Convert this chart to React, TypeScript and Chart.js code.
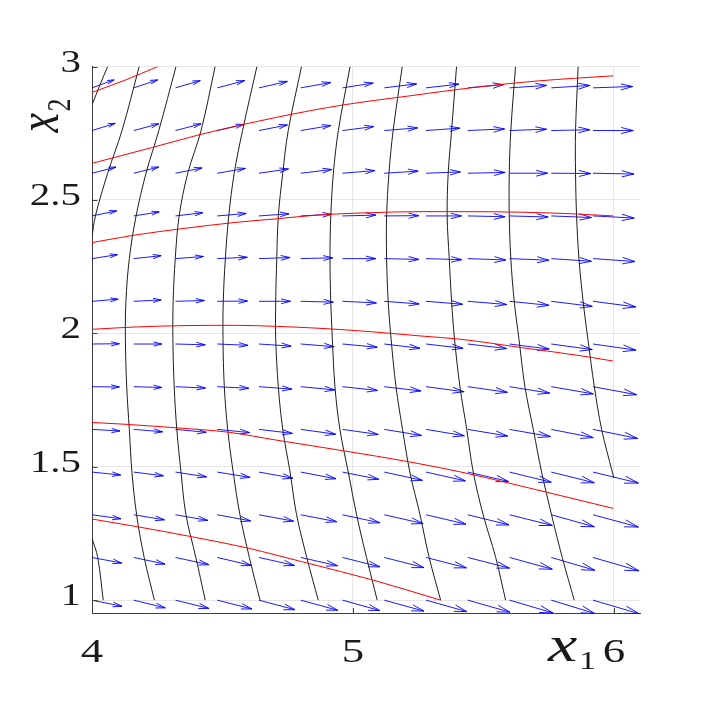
import React, { useEffect, useRef } from "react";
import { Chart, registerables } from "chart.js";

Chart.register(...registerables);

// ---- axes ----
const X_RANGE = [4, 6.1];
const Y_RANGE = [0.95, 3];
const X_TICKS = [4, 5, 6];
const X_TICK_LABELS = ["4", "5", "6"];
const Y_TICKS = [1, 1.5, 2, 2.5, 3];
const Y_TICK_LABELS = ["1", "1.5", "2", "2.5", "3"];
const X_LABEL = ["x", "1"];
const Y_LABEL = ["x", "2"];

// ---- quiver grid (tails) ----
const QUIVER_X = [4.0, 4.16, 4.32, 4.48, 4.64, 4.8, 4.96, 5.12, 5.28, 5.44, 5.6, 5.76, 5.92];
const QUIVER_Y = [2.92, 2.76, 2.6, 2.44, 2.28, 2.12, 1.96, 1.8, 1.64, 1.48, 1.32, 1.16, 1.0];
// displayed arrow components, in hundredths of an axis unit (one row per QUIVER_Y)
const QUIVER_U = [
  [8.5, 9.2, 9.5, 10.5, 10.9, 11.5, 11.8, 12.4, 12.6, 13.7, 14.2, 14.8, 15.2],
  [8.9, 9.6, 9.8, 10.2, 10.9, 11.6, 12.0, 12.8, 13.0, 14.1, 14.2, 14.8, 15.4],
  [9.2, 9.6, 10.2, 10.8, 11.3, 11.9, 12.4, 13.0, 13.2, 14.3, 14.6, 15.2, 15.7],
  [9.5, 9.8, 10.5, 11.1, 11.5, 11.9, 12.8, 13.3, 13.6, 14.3, 14.8, 15.4, 15.8],
  [9.8, 10.5, 10.7, 11.5, 11.9, 12.3, 12.8, 13.3, 13.8, 14.6, 15.1, 15.4, 16.1],
  [10.0, 10.5, 11.1, 11.6, 12.1, 12.5, 13.0, 13.4, 14.0, 14.9, 15.1, 15.7, 16.4],
  [10.5, 10.8, 11.4, 11.8, 12.3, 12.8, 13.3, 13.7, 14.2, 14.9, 15.2, 15.7, 16.5],
  [10.5, 10.8, 11.5, 12.1, 12.6, 13.1, 13.4, 14.1, 14.6, 15.2, 15.4, 16.1, 16.7],
  [10.7, 11.1, 11.8, 12.4, 12.8, 13.4, 13.7, 14.3, 14.7, 15.3, 15.7, 16.1, 17.1],
  [11.0, 11.4, 11.9, 12.6, 13.0, 13.5, 13.9, 14.6, 15.1, 15.6, 16.0, 16.5, 17.4],
  [11.1, 11.8, 12.4, 12.8, 13.3, 13.8, 14.3, 14.9, 15.3, 15.8, 16.4, 16.5, 17.4],
  [11.4, 12.0, 12.8, 13.1, 13.6, 14.1, 14.3, 15.2, 15.5, 16.0, 16.4, 16.7, 17.6],
  [11.5, 12.1, 12.8, 13.3, 13.8, 14.2, 14.3, 15.2, 15.7, 16.2, 16.7, 16.7, 17.7],
];
const QUIVER_V = [
  [3.0, 3.0, 2.7, 2.7, 2.4, 2.0, 1.8, 1.5, 1.4, 1.2, 0.9, 0.9, 0.5],
  [2.7, 2.5, 2.5, 2.3, 2.1, 1.9, 1.5, 1.0, 0.9, 0.6, 0.5, 0.3, 0.0],
  [2.3, 2.3, 2.0, 1.8, 1.6, 1.4, 1.0, 0.8, 0.5, 0.3, 0.0, -0.1, -0.3],
  [1.9, 1.5, 1.2, 0.9, 0.8, 0.6, 0.3, 0.1, 0.0, -0.3, -0.4, -0.6, -0.8],
  [1.5, 1.1, 0.8, 0.5, 0.4, 0.3, 0.0, -0.3, -0.4, -0.5, -0.6, -1.0, -1.1],
  [0.8, 0.5, 0.3, 0.1, 0.0, -0.3, -0.6, -1.0, -1.1, -1.2, -1.5, -1.9, -2.1],
  [0.1, 0.0, -0.3, -0.5, -0.8, -1.0, -1.2, -1.6, -1.6, -1.7, -1.9, -2.1, -2.3],
  [-0.1, -0.3, -0.5, -0.6, -0.9, -1.2, -1.4, -1.6, -1.9, -2.1, -2.4, -2.7, -3.0],
  [-0.6, -0.9, -1.1, -1.2, -1.5, -1.8, -1.9, -2.3, -2.4, -2.5, -2.7, -3.1, -3.4],
  [-1.1, -1.4, -1.8, -2.0, -2.3, -2.5, -2.7, -3.1, -3.3, -3.5, -3.8, -4.0, -4.1],
  [-1.5, -1.9, -2.1, -2.3, -2.4, -2.6, -3.0, -3.3, -3.5, -3.8, -4.0, -4.5, -4.6],
  [-2.1, -2.5, -2.7, -3.0, -3.0, -3.1, -3.5, -3.8, -3.9, -4.0, -4.4, -4.8, -5.0],
  [-2.3, -2.9, -3.1, -3.3, -3.6, -3.8, -3.9, -4.1, -4.3, -4.5, -4.8, -5.0, -5.1],
];

// ---- black curves ----
const BLACK_LEVELS = [3.0, 2.76, 2.6, 2.44, 2.28, 2.12, 1.98, 1.8, 1.64, 1.48, 1.32, 1.16, 1.0];
const BLACK_A_X = [4.06, 4.03, 4.0];
const BLACK_A_Y = [3.0, 2.93, 2.856];
const BLACK_B_X = [4.181, 4.115, 4.06, 4.013, 4.0];
const BLACK_B_Y = [3.0, 2.76, 2.6, 2.44, 2.361];
const BLACK_C_X = [4.322, 4.256, 4.207, 4.169, 4.143, 4.13, 4.128, 4.133, 4.143, 4.153, 4.171, 4.2, 4.239];
const BLACK_D_X = [4.472, 4.418, 4.367, 4.334, 4.319, 4.311, 4.31, 4.315, 4.325, 4.341, 4.36, 4.398, 4.434];
const BLACK_E_X = [4.632, 4.577, 4.545, 4.524, 4.511, 4.503, 4.502, 4.507, 4.52, 4.541, 4.567, 4.603, 4.644];
const BLACK_F_X = [4.803, 4.752, 4.731, 4.714, 4.708, 4.704, 4.704, 4.714, 4.731, 4.759, 4.784, 4.823, 4.867];
const BLACK_G_X = [4.989, 4.944, 4.925, 4.915, 4.912, 4.915, 4.921, 4.931, 4.95, 4.982, 5.014, 5.052, 5.093];
const BLACK_H_X = [5.189, 5.154, 5.138, 5.129, 5.129, 5.135, 5.146, 5.165, 5.19, 5.218, 5.257, 5.292, 5.336];
const BLACK_I_X = [5.397, 5.378, 5.365, 5.361, 5.369, 5.378, 5.389, 5.41, 5.436, 5.461, 5.499, 5.547, 5.585];
const BLACK_J_X = [5.623, 5.605, 5.599, 5.599, 5.605, 5.618, 5.636, 5.659, 5.691, 5.723, 5.761, 5.802, 5.848];
const BLACK_K_X = [5.863, 5.853, 5.853, 5.857, 5.866, 5.882, 5.9, 5.925, 5.953, 5.994, 6.0];
const BLACK_K_Y = [3.0, 2.76, 2.6, 2.44, 2.28, 2.12, 1.98, 1.8, 1.64, 1.48, 1.459];
const BLACK_L_X = [4.0, 4.022, 4.043];
const BLACK_L_Y = [1.2325, 1.16, 1.0];

// ---- red trajectories ----
const RED_1_X = [4.0, 4.13, 4.252];
const RED_1_Y = [2.903, 2.95, 3.0];
const RED_2_X = [4.0, 4.233, 4.411, 4.71, 4.963, 5.21, 5.41, 5.57, 5.71, 5.85, 5.997];
const RED_2_Y = [2.637, 2.697, 2.744, 2.81, 2.856, 2.889, 2.915, 2.933, 2.946, 2.956, 2.965];
const RED_3_X = [4.0, 4.169, 4.36, 4.552, 4.705, 4.874, 5.065, 5.257, 5.41, 5.646, 5.863, 5.997];
const RED_3_Y = [2.34, 2.369, 2.394, 2.416, 2.429, 2.444, 2.452, 2.456, 2.456, 2.454, 2.447, 2.44];
const RED_4_X = [4.0, 4.17, 4.36, 4.55, 4.71, 4.87, 5.07, 5.26, 5.41, 5.65, 5.9, 5.997];
const RED_4_Y = [2.015, 2.024, 2.029, 2.03, 2.026, 2.019, 2.006, 1.99, 1.978, 1.946, 1.912, 1.896];
const RED_5_X = [4.0, 4.13, 4.322, 4.526, 4.705, 4.969, 5.212, 5.41, 5.736, 5.997];
const RED_5_Y = [1.666, 1.659, 1.646, 1.629, 1.6, 1.559, 1.519, 1.481, 1.406, 1.344];
const RED_6_X = [4.0, 4.175, 4.386, 4.603, 4.705, 4.829, 5.078, 5.336];
const RED_6_Y = [1.304, 1.275, 1.237, 1.194, 1.169, 1.138, 1.075, 1.0];

// ---- style ----
const ARROW_UNIT = 0.01;
const HEAD_LEN = 0.3;
const HEAD_WIDTH = 0.25;
const BLUE = "rgb(0,0,255)";
const RED = "rgb(255,0,0)";
const BLACK = "rgb(30,30,30)";
const AXIS_COLOR = "#404040";
const GRID_COLOR = "#e6e6e6";
const TEXT_COLOR = "#1a1a1a";
const SERIF = '"Liberation Serif", "DejaVu Serif", serif';
const TEXT_STRETCH = 1.32;

function zipXY(xs: number[], ys: number[]) {
  return xs.map((x, i) => ({ x, y: ys[i] }));
}

function quiverData() {
  const pts: { x: number; y: number | null }[] = [];
  QUIVER_Y.forEach((y0, r) => {
    QUIVER_X.forEach((x0, c) => {
      const u = QUIVER_U[r][c] * ARROW_UNIT;
      const v = QUIVER_V[r][c] * ARROW_UNIT;
      const tx = x0 + u;
      const ty = y0 + v;
      pts.push({ x: x0, y: y0 }, { x: tx, y: ty }, { x: tx, y: null });
      pts.push(
        { x: tx - HEAD_LEN * (u + HEAD_WIDTH * v), y: ty - HEAD_LEN * (v - HEAD_WIDTH * u) },
        { x: tx, y: ty },
        { x: tx - HEAD_LEN * (u - HEAD_WIDTH * v), y: ty - HEAD_LEN * (v + HEAD_WIDTH * u) },
        { x: tx, y: null }
      );
    });
  });
  return pts;
}

function blackCurve(data: { x: number; y: number }[]) {
  return { data, borderColor: BLACK, borderWidth: 1, pointRadius: 0, tension: 0.35, fill: false, order: 2 };
}
function redCurve(data: { x: number; y: number }[]) {
  return {
    data,
    borderColor: RED,
    borderWidth: 1,
    pointRadius: 0,
    cubicInterpolationMode: "monotone",
    fill: false,
    order: 1,
  };
}

function stretchedText(ctx: any, text: string, x: number, y: number, align: string, font: string) {
  ctx.save();
  ctx.font = font;
  ctx.translate(x, y);
  ctx.scale(TEXT_STRETCH, 1);
  ctx.textAlign = align;
  ctx.textBaseline = "alphabetic";
  ctx.fillText(text, 0, 0);
  ctx.restore();
}

const decorPlugin = {
  id: "decor",
  afterDraw(chart: any) {
    const { ctx, chartArea } = chart;
    const xs = chart.scales.x;
    const ys = chart.scales.y;
    const tick = 5.5;
    ctx.save();
    ctx.strokeStyle = AXIS_COLOR;
    ctx.lineWidth = 1;
    Y_TICKS.forEach((v) => {
      const py = Math.round(ys.getPixelForValue(v)) + 0.5;
      ctx.beginPath();
      ctx.moveTo(chartArea.left, py);
      ctx.lineTo(chartArea.left + tick, py);
      ctx.stroke();
    });
    X_TICKS.forEach((v) => {
      const px = Math.round(xs.getPixelForValue(v)) + 0.5;
      ctx.beginPath();
      ctx.moveTo(px, chartArea.bottom);
      ctx.lineTo(px, chartArea.bottom - tick);
      ctx.stroke();
    });
    ctx.fillStyle = TEXT_COLOR;
    // y tick labels
    Y_TICKS.forEach((v, i) => {
      const py = ys.getPixelForValue(v);
      stretchedText(ctx, Y_TICK_LABELS[i], chartArea.left - 11, py + 5, "right", `31px ${SERIF}`);
    });
    // x tick labels
    X_TICKS.forEach((v, i) => {
      const px = xs.getPixelForValue(v);
      stretchedText(ctx, X_TICK_LABELS[i], px, chartArea.bottom + 48.5, "center", `34px ${SERIF}`);
    });
    // x label: x_1 near the right end of the x axis
    stretchedText(ctx, X_LABEL[0], chartArea.right - 92, chartArea.bottom + 47, "left", `italic 50px ${SERIF}`);
    stretchedText(ctx, X_LABEL[1], chartArea.right - 61, chartArea.bottom + 55, "left", `26px ${SERIF}`);
    // y label: x_2 rotated, near the top of the y axis
    ctx.save();
    ctx.translate(chartArea.left - 34, chartArea.top + 66);
    ctx.rotate(-Math.PI / 2);
    ctx.save();
    ctx.scale(1, TEXT_STRETCH);
    ctx.font = `italic 44px ${SERIF}`;
    ctx.fillText(Y_LABEL[0], 0, 0);
    ctx.restore();
    ctx.save();
    ctx.translate(21, 12);
    ctx.scale(1, TEXT_STRETCH);
    ctx.font = `26px ${SERIF}`;
    ctx.fillText(Y_LABEL[1], 0, 0);
    ctx.restore();
    ctx.restore();
    ctx.restore();
  },
};

export default function App() {
  const ref = useRef<HTMLCanvasElement | null>(null);
  useEffect(() => {
    if (!ref.current) return;
    const chart = new Chart(ref.current, {
      type: "line",
      data: {
        datasets: [
          redCurve(zipXY(RED_1_X, RED_1_Y)),
          redCurve(zipXY(RED_2_X, RED_2_Y)),
          redCurve(zipXY(RED_3_X, RED_3_Y)),
          redCurve(zipXY(RED_4_X, RED_4_Y)),
          redCurve(zipXY(RED_5_X, RED_5_Y)),
          redCurve(zipXY(RED_6_X, RED_6_Y)),
          blackCurve(zipXY(BLACK_A_X, BLACK_A_Y)),
          blackCurve(zipXY(BLACK_B_X, BLACK_B_Y)),
          blackCurve(zipXY(BLACK_C_X, BLACK_LEVELS)),
          blackCurve(zipXY(BLACK_D_X, BLACK_LEVELS)),
          blackCurve(zipXY(BLACK_E_X, BLACK_LEVELS)),
          blackCurve(zipXY(BLACK_F_X, BLACK_LEVELS)),
          blackCurve(zipXY(BLACK_G_X, BLACK_LEVELS)),
          blackCurve(zipXY(BLACK_H_X, BLACK_LEVELS)),
          blackCurve(zipXY(BLACK_I_X, BLACK_LEVELS)),
          blackCurve(zipXY(BLACK_J_X, BLACK_LEVELS)),
          blackCurve(zipXY(BLACK_K_X, BLACK_K_Y)),
          blackCurve(zipXY(BLACK_L_X, BLACK_L_Y)),
          {
            data: quiverData(),
            borderColor: BLUE,
            borderWidth: 0.9,
            pointRadius: 0,
            tension: 0,
            spanGaps: false,
            fill: false,
            order: 3,
          },
        ] as any,
      },
      options: {
        animation: false,
        responsive: false,
        devicePixelRatio: 1,
        parsing: false as any,
        layout: { padding: { left: 0, right: 66, top: 66.5, bottom: 0 } },
        elements: { line: { capBezierPoints: false } },
        plugins: { legend: { display: false }, tooltip: { enabled: false }, title: { display: false } },
        scales: {
          x: {
            type: "linear",
            min: X_RANGE[0],
            max: X_RANGE[1],
            afterFit: (s: any) => {
              s.height = 92.5;
            },
            afterBuildTicks: (s: any) => {
              s.ticks = X_TICKS.map((value) => ({ value }));
            },
            grid: { color: GRID_COLOR, lineWidth: 1, drawTicks: false },
            border: { display: true, color: AXIS_COLOR, width: 1 },
            ticks: { display: false },
          },
          y: {
            type: "linear",
            min: Y_RANGE[0],
            max: Y_RANGE[1],
            afterFit: (s: any) => {
              s.width = 92;
            },
            afterBuildTicks: (s: any) => {
              s.ticks = Y_TICKS.map((value) => ({ value }));
            },
            grid: { color: GRID_COLOR, lineWidth: 1, drawTicks: false },
            border: { display: true, color: AXIS_COLOR, width: 1 },
            ticks: { display: false },
          },
        },
      } as any,
      plugins: [decorPlugin],
    });
    return () => chart.destroy();
  }, []);
  return (
    <div style={{ position: "fixed", left: 0, top: 0, width: 706, height: 706, background: "#fff" }}>
      <canvas ref={ref} width={706} height={706} style={{ width: 706, height: 706, display: "block" }} />
    </div>
  );
}
